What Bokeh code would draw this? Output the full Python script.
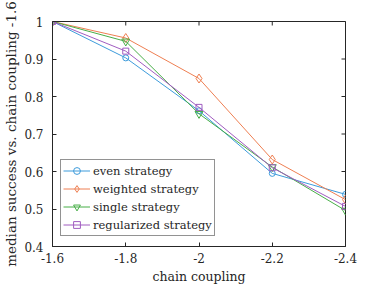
import math
from bokeh.plotting import figure
from bokeh.models import Range1d, FixedTicker, Legend, LegendItem
from bokeh.embed import file_html
from bokeh.resources import INLINE

coupling = [-1.6, -1.8, -2.0, -2.2, -2.4]
even = [1.0, 0.903, 0.762, 0.595, 0.539]
weighted = [1.0, 0.956, 0.848, 0.632, 0.525]
single = [1.0, 0.947, 0.754, 0.612, 0.496]
regularized = [1.0, 0.921, 0.771, 0.610, 0.507]

x_ticks = [-1.6, -1.8, -2.0, -2.2, -2.4]
x_tick_labels = ["-1.6", "-1.8", "-2", "-2.2", "-2.4"]
y_ticks = [0.4, 0.5, 0.6, 0.7, 0.8, 0.9, 1.0]
y_tick_labels = ["0.4", "0.5", "0.6", "0.7", "0.8", "0.9", "1"]

series = [
    ("even strategy", even, "#3D9BDB", "circle", 6),
    ("weighted strategy", weighted, "#EE7F52", "diamond", 9),
    ("single strategy", single, "#47AE47", "inverted_triangle", 8),
    ("regularized strategy", regularized, "#A05CC0", "square", 6),
]

FONT = "DejaVu Serif"
AX = "#262626"

p = figure(width=381, height=286, output_backend="svg", toolbar_location=None,
           x_range=Range1d(-1.6, -2.4), y_range=Range1d(0.4, 1.0),
           min_border_left=50, min_border_right=36, min_border_top=21, min_border_bottom=40)
p.grid.visible = False
p.outline_line_color = AX
p.background_fill_color = "white"
p.border_fill_color = "white"

# inward box ticks on top and right edges (half of each dash is clipped by the frame)
p.scatter(x_ticks, [y_ticks[-1]] * len(x_ticks), marker="dash", angle=math.pi / 2,
          size=8, line_color=AX, line_width=1)
p.scatter([x_ticks[-1]] * len(y_ticks), y_ticks, marker="dash",
          size=8, line_color=AX, line_width=1)

items = []
for name, vals, col, mk, sz in series:
    r1 = p.line(coupling, vals, line_color=col, line_width=1)
    r2 = p.scatter(coupling, vals, marker=mk, size=sz, line_color=col, fill_color=None, line_width=1)
    items.append(LegendItem(label=name, renderers=[r1, r2]))

p.xaxis.ticker = FixedTicker(ticks=x_ticks)
p.yaxis.ticker = FixedTicker(ticks=y_ticks)
p.xaxis.major_label_overrides = dict(zip(x_ticks, x_tick_labels))
p.yaxis.major_label_overrides = dict(zip(y_ticks, y_tick_labels))
for ax in (p.xaxis[0], p.yaxis[0]):
    ax.major_tick_in = 4
    ax.major_tick_out = 0
    ax.minor_tick_line_color = None
    ax.axis_line_color = AX
    ax.major_tick_line_color = AX
    ax.major_label_text_font = FONT
    ax.major_label_text_color = AX
    ax.major_label_text_font_size = "12px"
    ax.axis_label_text_font = FONT
    ax.axis_label_text_font_style = "normal"
    ax.axis_label_text_color = AX
p.xaxis.axis_label_text_font_size = "12.5px"
p.yaxis.axis_label_text_font_size = "13.5px"
p.xaxis.major_label_standoff = 6
p.yaxis.major_label_standoff = 9
p.xaxis.axis_label = "chain coupling"
p.yaxis.axis_label = "median success vs. chain coupling -1.6"
p.xaxis.axis_label_standoff = 3
p.yaxis.axis_label_standoff = 2

legend = Legend(items=items, location=(8, 10))
legend.label_text_font = FONT
legend.label_text_font_size = "11.5px"
legend.label_text_color = AX
legend.glyph_width = 27
legend.glyph_height = 17
legend.label_height = 17
legend.spacing = 1
legend.padding = 2
legend.margin = 0
legend.label_standoff = 3
legend.border_line_color = AX
legend.border_line_width = 1
legend.background_fill_color = "white"
legend.background_fill_alpha = 1
p.add_layout(legend, "center")

open("out.html", "w").write(file_html(p, INLINE))
